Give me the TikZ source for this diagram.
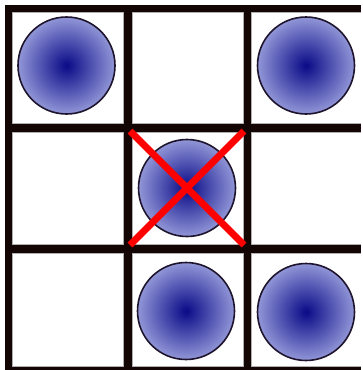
\documentclass[tikz,border=0pt]{standalone}
\usetikzlibrary{shapes.geometric}
\definecolor{ballin}{RGB}{10,10,135}
\definecolor{ballout}{RGB}{145,150,215}
\definecolor{ballline}{RGB}{30,20,45}
\definecolor{gridline}{RGB}{20,5,5}
\definecolor{cellline}{RGB}{175,175,175}
\tikzset{
  ball/.style={circle, minimum size=97pt, inner sep=0pt, draw=ballline, line width=1.6pt,
    shading=radial, inner color=ballin, outer color=ballout},
  cell/.style={fill=white, draw=cellline, line width=1pt},
  cross/.style={draw=red, line width=7pt}
}
\begin{document}
\begin{tikzpicture}[x=1pt,y=-1pt]
\useasboundingbox (0,0) rectangle (363,370);
\fill[white] (0,0) rectangle (363,370);
\fill[gridline] (5,4.5) rectangle (361,370);
% cells
\foreach \cx/\cxx [count=\i] in {12/123,132/243,251/361}{
  \foreach \cy/\cyy [count=\j] in {12/123,132/244,253/366}{
    \path[cell] (\cx,\cy) rectangle (\cxx,\cyy);
  }
}
\fill[white] (361,0) rectangle (363,370);
\node[ball] (b11) at (66.5,65.5) {};
\node[ball] (b13) at (306,65.5) {};
\node[ball] (b22) at (187,188) {};
\node[ball] (b32) at (186,311) {};
\node[ball] (b33) at (306,312) {};
\coordinate (xa) at (130,131);
\coordinate (xb) at (244,245);
\coordinate (xc) at (244,131);
\coordinate (xd) at (130,245);
\draw[cross] (xa) -- (xb);
\draw[cross] (xc) -- (xd);
\end{tikzpicture}
\end{document}
